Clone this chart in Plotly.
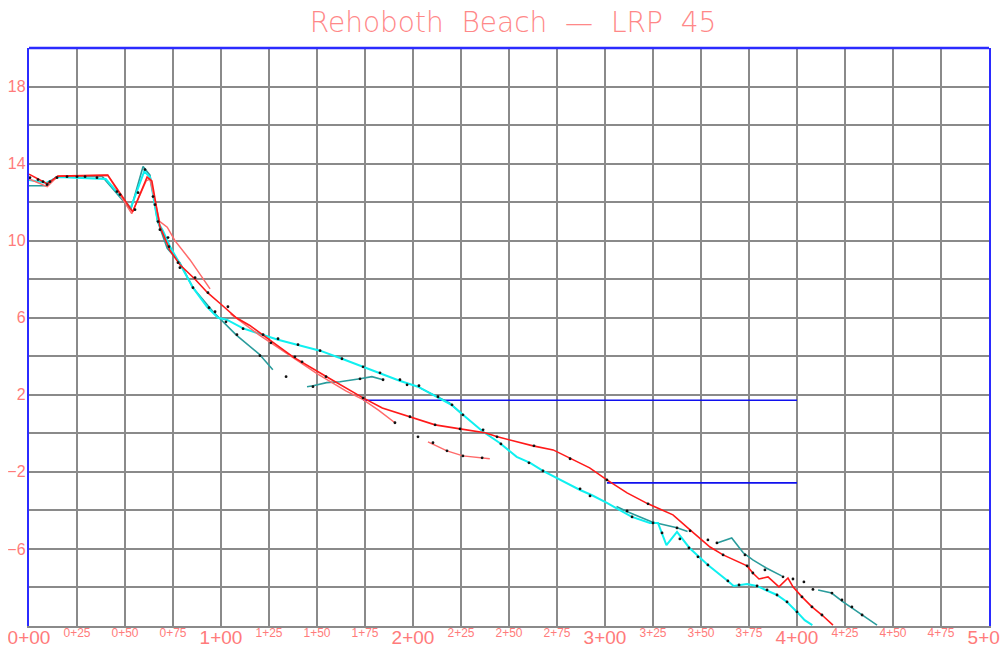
import plotly.graph_objects as go

# ---------------- axis ticks ----------------
grid_stations = list(range(0, 501, 25))
major_stations = [0, 100, 200, 300, 400, 500]
major_labels = ["0+00", "1+00", "2+00", "3+00", "4+00", "5+00"]
minor_stations = [25, 50, 75, 125, 150, 175, 225, 250, 275, 325, 350, 375, 425, 450, 475]
minor_labels = ["0+25", "0+50", "0+75", "1+25", "1+50", "1+75", "2+25", "2+50", "2+75",
                "3+25", "3+50", "3+75", "4+25", "4+50", "4+75"]
grid_elev = list(range(-10, 21, 2))
label_elev = {-6: "\u22126", -2: "\u22122", 2: "2", 6: "6", 10: "10", 14: "14", 18: "18"}

# ---------------- profile data ----------------
red_x = [0, 9.4, 15, 41, 54, 61.5, 64, 68.2, 73.4, 78.6, 86.5, 93, 100, 108, 115, 125.5, 137.5,
         155, 174, 184, 198.4, 211.5, 224.5, 237.5, 244, 262.5, 273, 282, 292, 301, 311.5, 322.4,
         335.4, 344.3, 354.7, 361.5, 374, 377, 380.2, 384.9, 390.6, 395.3, 397.9, 402.6, 407.8,
         413, 418.75]
red_y = [13.45, 12.95, 13.35, 13.4, 11.5, 13.3, 13.1, 10.73, 9.5, 8.75, 8.0, 7.3, 6.7, 6.0, 5.6,
         4.86, 3.97, 2.94, 1.84, 1.32, 0.86, 0.44, 0.23, 0.03, -0.18, -0.65, -0.86, -1.32, -1.79,
         -2.42, -3.09, -3.66, -4.23, -5.01, -5.9, -6.31, -6.88, -7.25, -7.56, -7.45, -7.97, -7.51,
         -7.97, -8.49, -9.01, -9.43, -9.95]

lightred_x = [0, 9.5, 15, 41, 53.5, 61, 63, 68, 72, 76, 83.9, 94.3, None,
              105, 120, 135, 150, 165, 174, 182, 190.6, None,
              207.8, 217.7, 226, 236, 240]
lightred_y = [13.2, 12.8, 13.35, 13.4, 11.4, 13.1, 13.2, 11.0, 10.7, 10.0, 9.0, 7.5, None,
              6.2, 5.1, 4.1, 3.1, 2.2, 1.75, 1.2, 0.55, None,
              -0.44, -0.91, -1.17, -1.27, -1.32]

cyan_x = [0, 9, 15, 40, 53, 60, 63, 67, 69.8, 73.4, 79.7, 85.4, 92.7, 98.4, 103, 111.5, 122,
          129.7, 139.6, 151.6, 163, 174, 183, 193, 202.6, 212.5, 220, 226, 236.5, 245, 254, 261,
          267.7, 287, 293, 301, 314, 323.4, 327.6, 332, 337.5, 344, 353.6, 364, 367, 374, 379,
          389.6, 394.8, 400, 404, 408]
cyan_y = [13.15, 13.0, 13.3, 13.2, 11.7, 13.6, 13.3, 11.0, 10.5, 9.7, 8.6, 7.56, 6.57, 6.0, 5.9,
          5.45, 5.1, 4.86, 4.6, 4.29, 3.87, 3.45, 3.09, 2.73, 2.42, 1.9, 1.48, 0.96, 0.08, -0.49,
          -1.22, -1.53, -1.95, -2.94, -3.2, -3.61, -4.34, -4.65, -4.65, -5.8, -5.12, -5.95, -6.83,
          -7.66, -7.92, -7.82, -7.92, -8.39, -8.75, -9.27, -9.7, -9.95]

teal_x = [0, 9, 14, 38, 53, 59.4, 63, 67, 72, 78.6, 85.4, 96, 108, 120, 127, None,
          144.8, 148, 155, 162, 172.4, 178.6, 184.4, None,
          203.6, 212.5, 219, 226, None,
          306, 312, 324.5, 337.5, 343, None,
          358, 366, 372, 377, 384, 392, None,
          411, 418, 424, 434, 441.7]
teal_y = [12.85, 12.85, 13.3, 13.35, 11.6, 13.85, 13.4, 11.0, 9.6, 8.85, 7.56, 6.3, 5.1, 4.1, 3.3, None,
          2.42, 2.47, 2.63, 2.68, 2.83, 2.94, 2.78, None,
          2.36, 1.9, 1.58, 0.96, None,
          -3.8, -4.08, -4.6, -4.9, -5.1, None,
          -5.7, -5.43, -6.2, -6.57, -6.99, -7.4, None,
          -8.13, -8.29, -8.75, -9.43, -9.95]

water_x = [174, 400, None, 301, 400]
water_y = [1.72, 1.72, None, -2.57, -2.57]

point_x = [0.5, 4.7, 7.3, 9.4, 10.9, 14.6, 19.8, 25, 29.2, 35.4, 45.8, 47.4, 55.2, 56.8, 60.4,
           64.6, 65.6, 67.2, 68.2, 72.4, 72.9, 77.6, 78.6, 86.5,
           85.4, 93.2, 103.6, 93.75, 96.9, 102.6, 108.3, 111.5, 121.9, 126, 129.7, 120.3, 133.9,
           138.5, 142.2, 140.1, 147.9, 151.6, 154.7, 163, 172.4, 174, 174, 182.8, 184.4, 193.2,
           196.9, 203.1, 198.4, 190.6, 202.6, 211.5, 213,
           210.4, 217.7, 226, 236, 236.5, 243.75, 245.8, 263, 260.4, 267.7, 281.8, 287, 292.2,
           301, 311.5, 314.1, 322.4, 325, 337.5, 224.5, 220.3, 226,
           329.7, 339, 344.3, 343.75, 348.4, 353.6, 353.6, 358.3, 361.5, 364, 369.8, 372.9, 374,
           377, 379.2, 383.3, 384.4, 389.6, 392.7, 394.8, 397.9, 400, 402.6, 403.6, 407.8, 408.3,
           413, 418.2, 423.4, 428.6, 433.9]
point_y = [13.27, 13.17, 13.06, 12.91, 13.06, 13.27, 13.32, 13.32, 13.32, 13.27, 12.55, 12.39,
           11.61, 12.49, 13.69, 12.29, 11.87, 10.99, 10.57, 10.16, 9.69, 8.86, 8.6, 8.08,
           7.56, 7.3, 6.57, 6.52, 6.31, 5.79, 5.12, 5.43, 5.12, 4.7, 4.91, 4.03, 2.94,
           3.97, 3.71, 4.6, 2.42, 4.29, 2.94, 3.87, 2.83, 3.45, 1.84, 3.14, 2.78, 2.78,
           2.52, 2.47, 0.86, 0.55, -0.18, 0.44, 1.9,
           -0.49, -0.91, -1.17, -1.27, 0.18, -0.18, -0.55, -0.65, -1.53, -1.95, -1.32, -2.88, -3.25,
           -2.42, -4.03, -4.34, -3.66, -4.65, -4.91, 0.23, 1.48, 0.96,
           -5.17, -5.48, -5.06, -5.95, -6.41, -5.53, -6.83, -5.69, -6.31, -7.66, -7.87, -6.31, -6.88,
           -7.25, -7.92, -7.09, -8.13, -8.39, -7.45, -8.75, -7.56, -9.27, -8.49, -7.71, -9.01, -8.1,
           -9.43, -8.29, -8.65, -9.01, -9.43]

# ---------------- figure ----------------
LABEL_COLOR = "#ff7b7b"
LBL_FONT = "Liberation Sans, sans-serif"

fig = go.Figure()
fig.add_trace(go.Scatter(x=water_x, y=water_y, mode="lines",
                         line=dict(color="#1010ee", width=1.6), hoverinfo="skip"))
fig.add_trace(go.Scatter(x=teal_x, y=teal_y, mode="lines",
                         line=dict(color="#2a9c9c", width=1.6), hoverinfo="skip"))
fig.add_trace(go.Scatter(x=cyan_x, y=cyan_y, mode="lines",
                         line=dict(color="#10f0f0", width=2), hoverinfo="skip"))
fig.add_trace(go.Scatter(x=lightred_x, y=lightred_y, mode="lines",
                         line=dict(color="#ff6a6a", width=1.5), hoverinfo="skip"))
fig.add_trace(go.Scatter(x=red_x, y=red_y, mode="lines",
                         line=dict(color="#ff1a1a", width=1.6), hoverinfo="skip"))
fig.add_trace(go.Scatter(x=point_x, y=point_y, mode="markers",
                         marker=dict(color="#111111", size=2.8), hoverinfo="skip"))
# carrier trace so the secondary (minor station label) axis is drawn
fig.add_trace(go.Scatter(x=minor_stations, y=[None] * len(minor_stations), xaxis="x2",
                         mode="markers", hoverinfo="skip"))

fig.update_layout(
    width=1000, height=642,
    margin=dict(l=21, r=19, t=40, b=24, pad=0),
    paper_bgcolor="white", plot_bgcolor="white",
    showlegend=False,
    title=dict(text="Rehoboth\u00a0\u00a0Beach\u00a0\u00a0\u2014\u00a0\u00a0LRP\u00a0\u00a045",
               x=0.505, xanchor="center", y=0.978, yanchor="middle",
               font=dict(family="DejaVu Sans", size=28, color="#ff8888", weight=200)),
    xaxis=dict(range=[0, 500], tickvals=grid_stations, automargin=False,
               ticktext=[major_labels[major_stations.index(s)] if s in major_stations else ""
                         for s in grid_stations],
               showgrid=True, gridcolor="#8a8a8a", gridwidth=1.6,
               zeroline=False, showline=True, linecolor="#8a8a8a", linewidth=2,
               ticks="", tickfont=dict(family=LBL_FONT, size=19, color=LABEL_COLOR),
               ticklabelstandoff=-7, ticklabeloverflow="allow"),
    xaxis2=dict(range=[0, 500], overlaying="x", anchor="y", side="bottom", automargin=False,
                tickvals=minor_stations, ticktext=minor_labels,
                showgrid=False, zeroline=False, showline=False, ticks="",
                tickfont=dict(family=LBL_FONT, size=12, color=LABEL_COLOR),
                ticklabelstandoff=-2, ticklabeloverflow="allow"),
    yaxis=dict(range=[-10, 20], tickvals=grid_elev, automargin=False,
               ticktext=[label_elev.get(v, "") for v in grid_elev],
               showgrid=True, gridcolor="#8a8a8a", gridwidth=1.6,
               zeroline=False, showline=True, mirror=True, linecolor="#2b2bff", linewidth=2.4,
               ticks="", tickfont=dict(family=LBL_FONT, size=16, color=LABEL_COLOR),
               ticklabelstandoff=-2, ticklabeloverflow="allow"),
    shapes=[dict(type="line", xref="paper", yref="paper", x0=0, x1=1, y0=1, y1=1,
                 line=dict(color="#2b2bff", width=2.4))],
)

fig.write_html("out.html")
